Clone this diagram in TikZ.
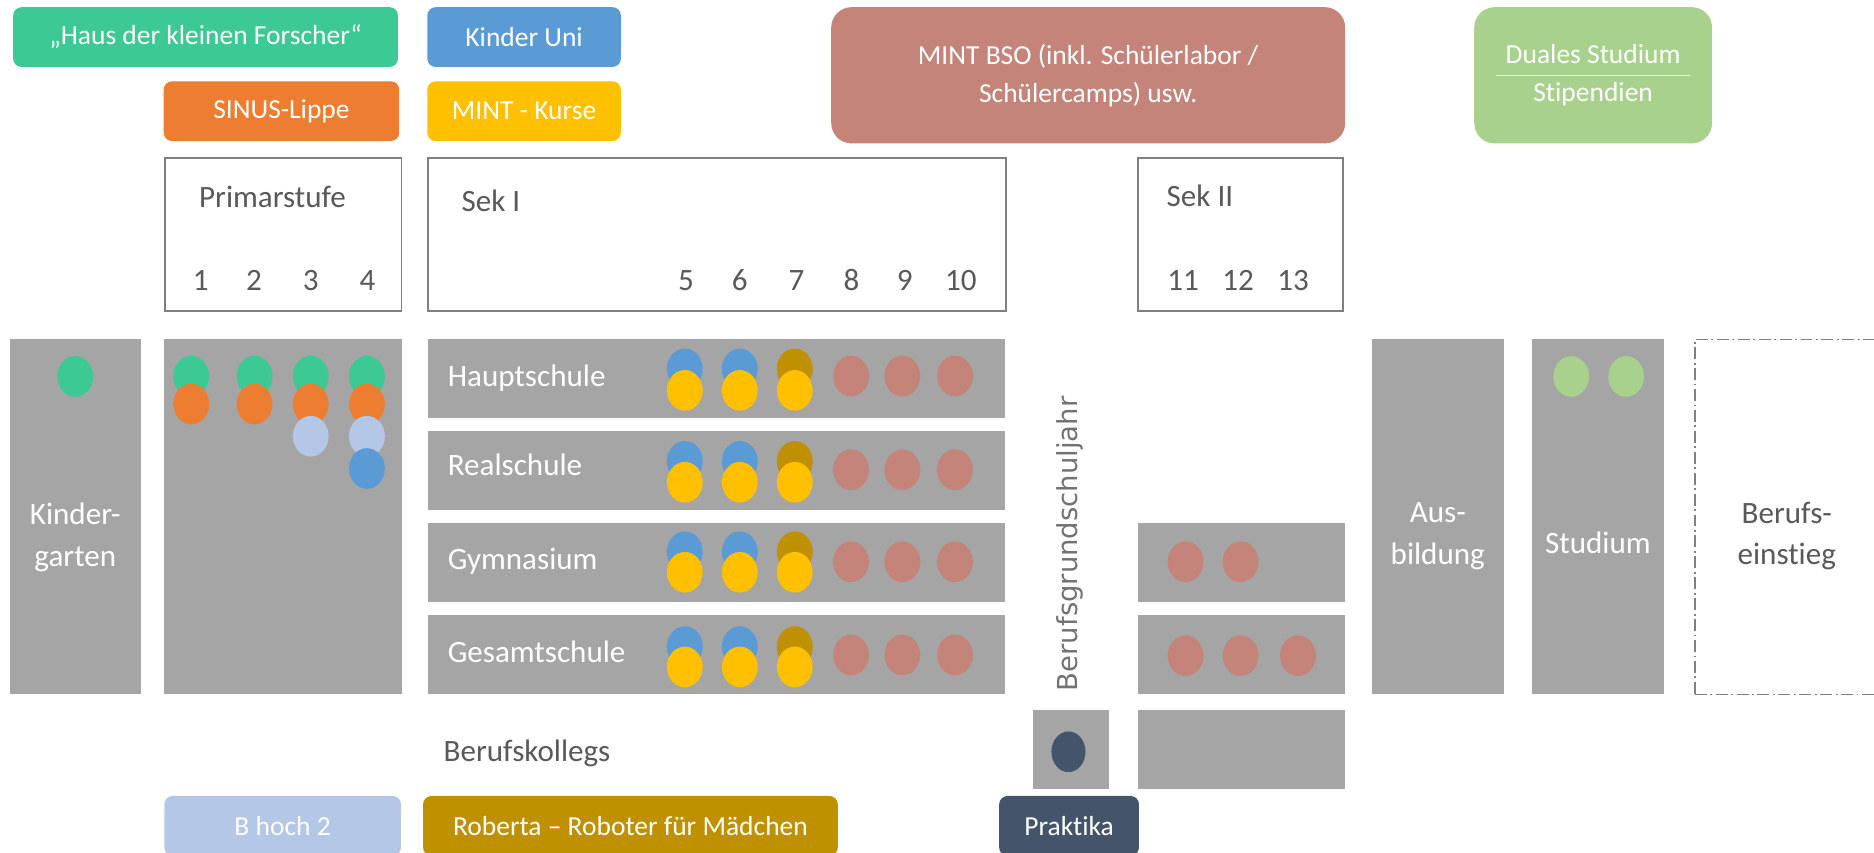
\documentclass[tikz,border=0pt]{standalone}
\usepackage{fontspec}
\setmainfont{Carlito}[Ligatures=NoCommon]
\newfontfamily\vertfont{DejaVu Sans}
\usetikzlibrary{shapes.geometric}
\definecolor{cgreen}{HTML}{3CC994}
\definecolor{cblue}{HTML}{5B9BD5}
\definecolor{corange}{HTML}{ED7D31}
\definecolor{cyellow}{HTML}{FFC000}
\definecolor{crose}{HTML}{C4847A}
\definecolor{clgreen}{HTML}{A9D18E}
\definecolor{clblue}{HTML}{B4C7E7}
\definecolor{cgold}{HTML}{BF9000}
\definecolor{cnavy}{HTML}{44546A}
\definecolor{cgray}{HTML}{A5A5A5}
\definecolor{cframe}{HTML}{7F7F7F}
\definecolor{ctext}{HTML}{595959}
\begin{document}
\begin{tikzpicture}[x=1pt,y=-1pt,
  tag/.style={rectangle, rounded corners=7pt, inner sep=0pt, text=white, font=\fontsize{23}{32}\selectfont, align=center},
  bigtag/.style={tag, rounded corners=17pt},
  head/.style={rectangle, draw=cframe, line width=1.5pt, fill=white, inner sep=0pt},
  htext/.style={text=ctext, font=\fontsize{26}{30}\selectfont, inner sep=0pt},
  block/.style={rectangle, fill=cgray, inner sep=0pt},
  btext/.style={text=white, font=\fontsize{26}{35}\selectfont, align=center, inner sep=0pt},
  dot/.style={ellipse, minimum width=30pt, minimum height=34pt, inner sep=0pt}]
\useasboundingbox (0,0) rectangle (1568,713);
\clip (0,0) rectangle (1568,713);
% top tags
\node[tag, fill=cgreen, minimum width=322pt, minimum height=50pt] (haus) at (172,31) {„Haus der kleinen Forscher“};
\node[tag, fill=cblue, minimum width=162pt, minimum height=50pt] (kuni) at (438.5,31) {Kinder Uni};
\node[tag, fill=corange, minimum width=197pt, minimum height=50pt] (sinus) at (235.5,93) {SINUS-Lippe};
\node[tag, fill=cyellow, minimum width=162pt, minimum height=50pt] (kurse) at (438.5,93) {MINT - Kurse};
\node[bigtag, fill=crose, minimum width=430pt, minimum height=114pt] (bso) at (910.5,63) {MINT BSO (inkl. Schülerlabor /\\Schülercamps) usw.};
\node[bigtag, fill=clgreen, minimum width=199pt, minimum height=114pt] (duales) at (1333,63) {Duales Studium\\Stipendien};
\draw[white!80!clgreen, line width=1.2pt] ([xshift=-81pt]duales.center) -- ([xshift=81pt]duales.center);
% header boxes
\node[head, minimum width=198pt, minimum height=128pt] (primar) at (237,196.5) {};
\node[htext, anchor=base] (primartxt) at (228,173.5) {Primarstufe};
\foreach \n/\x in {1/168,2/212.5,3/260,4/307.5}
  \node[htext, anchor=base] (g\n) at (\x,242.7) {\n};
\node[head, minimum width=484pt, minimum height=128pt] (sek1) at (600,196.5) {};
\node[htext, anchor=base west] (sek1txt) at (386,177) {Sek I};
\foreach \n/\x in {5/574,6/619,7/666.5,8/712.5,9/757,10/804}
  \node[htext, anchor=base] (g\n) at (\x,242.7) {\n};
\node[head, minimum width=171.5pt, minimum height=128pt] (sek2) at (1038,196.5) {};
\node[htext, anchor=base west] (sek2txt) at (976,173) {Sek II};
\foreach \n/\x in {11/990,12/1036,13/1082}
  \node[htext, anchor=base] (g\n) at (\x,242.7) {\n};
% gray blocks
\node[block, minimum width=110pt, minimum height=297pt] (kiga) at (63,432.5) {};
\node[btext] (kigatxt) at (63,449.4) {Kinder-\\garten};
\node[block, minimum width=198.5pt, minimum height=297pt] (prim) at (236.75,432.5) {};
\node[block, minimum width=483pt, minimum height=66pt] (haupt) at (599.5,316.75) {};
\node[block, minimum width=483pt, minimum height=66pt] (real) at (599.5,393.5) {};
\node[block, minimum width=483pt, minimum height=66pt] (gym) at (599.5,470.5) {};
\node[block, minimum width=483pt, minimum height=66pt] (gesamt) at (599.5,547.7) {};
\node[btext, anchor=base west] (hauptt) at (374.5,323.6) {Hauptschule};
\node[btext, anchor=base west] (realt) at (374.5,397.6) {Realschule};
\node[btext, anchor=base west] (gymt) at (374.5,476.4) {Gymnasium};
\node[btext, anchor=base west] (gesamtt) at (374.5,554.3) {Gesamtschule};
\node[block, minimum width=173.5pt, minimum height=66pt] (s2gym) at (1038.75,470.5) {};
\node[block, minimum width=173.5pt, minimum height=66pt] (s2ges) at (1038.75,547.7) {};
\node[block, minimum width=173.5pt, minimum height=66pt] (s2bk) at (1038.75,627) {};
\node[block, minimum width=63.5pt, minimum height=66pt] (bgj) at (896.25,627) {};
\node[block, minimum width=110pt, minimum height=297pt] (ausb) at (1203,432.5) {};
\node[btext] (ausbt) at (1203,448.5) {Aus-\\bildung};
\node[block, minimum width=110pt, minimum height=297pt] (stud) at (1337,432.5) {};
\node[btext, anchor=base] (studt) at (1337,463) {Studium};
\node[rectangle, draw=cframe, line width=1.4pt, dash pattern=on 10pt off 3pt on 1.5pt off 3pt, minimum width=172pt, minimum height=297pt, inner sep=0pt] (einst) at (1504,432.5) {};
\node[btext, text=ctext] (einstt) at (1495,448.5) {Berufs-\\einstieg};
\node[text=ctext!85!white, rotate=90, inner sep=0pt, font=\vertfont\fontsize{23}{26}\selectfont] (bgjtxt) at (895,455) {Berufsgrundschuljahr};
\node[htext, anchor=base west] (bkt) at (371,637) {Berufskollegs};
% bottom tags
\node[tag, fill=clblue, minimum width=198pt, minimum height=50pt] (bhoch) at (236.5,691) {B hoch 2};
\node[tag, fill=cgold, minimum width=347pt, minimum height=50pt] (roberta) at (527.5,691) {Roberta – Roboter für Mädchen};
\node[tag, fill=cnavy, minimum width=117pt, minimum height=50pt] (praktika) at (894.5,691) {Praktika};
% dots
\node[dot, fill=cgreen] (kd) at (63,315) {};
\foreach \x [count=\i] in {160,213,260,307} \node[dot, fill=cgreen] (pg\i) at (\x,314.7) {};
\foreach \x [count=\i] in {160,213,260,307} \node[dot, fill=corange] (po\i) at (\x,338) {};
\foreach \x [count=\i] in {260,307} \node[dot, fill=clblue] (pl\i) at (\x,365) {};
\node[dot, fill=cblue] (pb) at (307,392) {};
\foreach \r/\yb/\yy/\yr in {h/308.6/326.6/314.6, r/386/403.5/393, g/461.6/478.8/470, s/541/558/548}{
  \node[dot, fill=cblue] (\r b1) at (573,\yb) {};
  \node[dot, fill=cblue] (\r b2) at (619,\yb) {};
  \node[dot, fill=cgold] (\r b3) at (665,\yb) {};
  \foreach \x [count=\i] in {573,619,665} \node[dot, fill=cyellow] (\r y\i) at (\x,\yy) {};
  \foreach \x [count=\i] in {712,755,799} \node[dot, fill=crose] (\r r\i) at (\x,\yr) {};
}
\foreach \x [count=\i] in {992,1038} \node[dot, fill=crose] (s2g\i) at (\x,470) {};
\foreach \x [count=\i] in {992,1038,1086} \node[dot, fill=crose] (s2s\i) at (\x,548.6) {};
\foreach \x [count=\i] in {1314.6,1360.6} \node[dot, fill=clgreen] (sd\i) at (\x,315) {};
\node[dot, fill=cnavy, minimum width=28.5pt] (bgjd) at (894,629) {};
\end{tikzpicture}
\end{document}
